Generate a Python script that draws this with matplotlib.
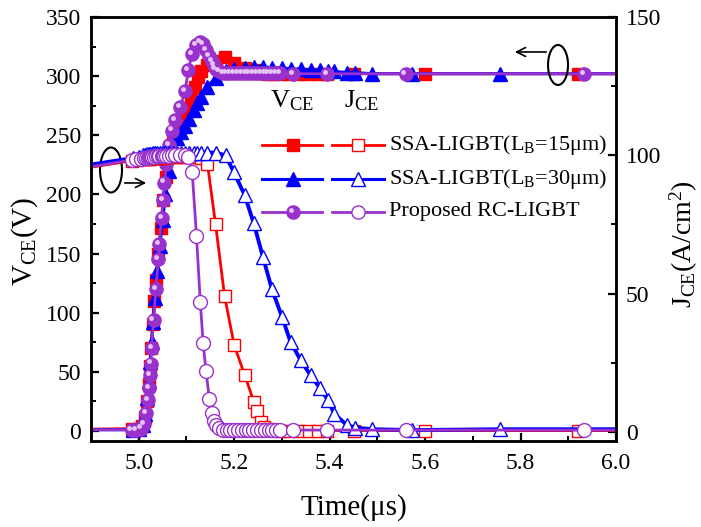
"""
Turn-off waveforms: collector voltage and current density vs. time
"""
import matplotlib
matplotlib.use('Agg')
import matplotlib.pyplot as plt
import matplotlib.transforms as mtransforms
from matplotlib.patches import Ellipse
from matplotlib.ticker import MultipleLocator

plt.rcParams['font.family'] = ['Liberation Serif', 'DejaVu Serif']
plt.rcParams['mathtext.fontset'] = 'custom'
plt.rcParams['mathtext.rm'] = 'Liberation Serif'
plt.rcParams['mathtext.it'] = 'Liberation Serif:italic'

# ---- SSA-LIGBT (LB = 15 um) ----
t_ssa15 = [4.80, 4.985, 4.997, 5.006, 5.013, 5.018, 5.021, 5.024, 5.026, 5.029,
           5.032, 5.036, 5.041, 5.046, 5.051, 5.057, 5.064, 5.072, 5.081, 5.090,
           5.100, 5.110, 5.117, 5.124, 5.131, 5.144, 5.161, 5.180, 5.200, 5.222,
           5.241, 5.247, 5.257, 5.262, 5.270, 5.282, 5.296, 5.314, 5.336, 5.356,
           5.375, 5.395, 5.452, 5.599, 5.920, 6.30]
v_ssa15 = [1, 2, 2, 4, 12, 25, 40, 55, 70, 90,
           110, 128, 150, 172, 195, 215, 233, 248, 258, 265,
           272, 282, 291, 299, 304, 309, 313, 316, 311, 307,
           305, 304, 303, 303, 302, 302, 302, 302, 302, 302,
           302, 302, 302, 302, 302, 302]
j_ssa15 = [93, 98, 98.3, 98.5, 98.6, 98.7, 98.8, 98.8, 98.9, 99,
           99, 99.1, 99.1, 99.2, 99.2, 99.3, 99.3, 99.4, 99.4, 99.5,
           99.5, 99.5, 99.5, 99.4, 99.2, 97, 75, 49, 31.4, 20.6,
           11, 7.6, 3.7, 1.9, 1.0, 0.7, 0.5, 0.5, 0.5, 0.5,
           0.5, 0.5, 0.5, 0.5, 0.5, 0.5]

# ---- SSA-LIGBT (LB = 30 um) ----
t_ssa30 = [4.80, 4.988, 5.000, 5.008, 5.014, 5.018, 5.021, 5.024, 5.027, 5.030,
           5.034, 5.039, 5.044, 5.050, 5.056, 5.063, 5.071, 5.080, 5.088, 5.096,
           5.105, 5.116, 5.123, 5.130, 5.142, 5.161, 5.182, 5.199, 5.222, 5.241,
           5.260, 5.279, 5.300, 5.318, 5.339, 5.360, 5.380, 5.396, 5.410, 5.436,
           5.453, 5.489, 5.573, 5.757, 6.30]
v_ssa30 = [1, 1, 2, 5, 14, 28, 42, 58, 75, 92,
           112, 135, 156, 178, 200, 220, 237, 248, 253, 258,
           264, 271, 277, 282, 291, 298, 304, 306, 307, 308,
           308, 307, 307, 306, 306, 305, 305, 304, 304, 303,
           303, 302, 302, 302, 302]
j_ssa30 = [94, 99, 99.5, 100, 100, 100.3, 100.4, 100.5, 100.6, 100.7,
           100.8, 100.8, 100.9, 100.9, 101, 101, 101, 101, 101, 101,
           101, 101, 101, 101, 101, 101, 100, 94, 85.6, 75.4,
           63.4, 51.6, 41.7, 32.6, 26, 20.5, 15.8, 11.6, 6.5, 2.5,
           1.6, 1.0, 0.7, 1.0, 1.0]

# ---- Proposed RC-LIGBT ----
t_rc = [4.80, 4.985, 4.995, 5.004, 5.011, 5.016, 5.020, 5.022, 5.024, 5.025,
        5.027, 5.031, 5.036, 5.041, 5.043, 5.048, 5.051, 5.054, 5.058, 5.064,
        5.070, 5.077, 5.087, 5.097, 5.104, 5.112, 5.121, 5.129, 5.135, 5.141,
        5.148, 5.153, 5.157, 5.161, 5.168, 5.176, 5.184, 5.192, 5.200, 5.208,
        5.216, 5.224, 5.232, 5.240, 5.248, 5.256, 5.264, 5.272, 5.280, 5.288,
        5.296, 5.323, 5.395, 5.559, 5.933, 6.30]
v_rc = [1, 1, 1, 2, 6, 15, 26, 36, 47, 57,
        70, 94, 120, 145, 158, 180, 195, 210, 226, 242,
        254, 263, 274, 287, 305, 319, 326, 329, 327, 322,
        317, 313, 309, 306, 304, 302.5, 302.5, 302.5, 302.5, 302.5,
        302.5, 302.5, 302.5, 302.5, 302.5, 302.5, 302.5, 302.5, 302.5, 302.5,
        302.5, 302, 302, 302, 302, 302]
j_rc = [93, 98.3, 98.6, 98.8, 99.0, 99.1, 99.2, 99.3, 99.3, 99.4,
        99.4, 99.5, 99.6, 99.6, 99.7, 99.7, 99.8, 99.8, 99.9, 99.9,
        100, 100, 100.1, 100.1, 99.5, 94, 71, 47, 32, 22,
        12, 7, 4, 2.5, 1.3, 0.8, 0.8, 0.8, 0.8, 0.8,
        0.8, 0.8, 0.8, 0.8, 0.8, 0.8, 0.8, 0.8, 0.8, 0.8,
        0.8, 0.7, 0.7, 0.7, 0.7, 0.7]

labels = ['SSA-LIGBT(L$_{\\rm B}$=15\u03bcm)',
          'SSA-LIGBT(L$_{\\rm B}$=30\u03bcm)',
          'Proposed RC-LIGBT']

RED = '#ff0000'
BLUE = '#0000ff'
PURPLE = '#9932cc'
SHINE = '#e6c4f7'

fig = plt.figure(figsize=(7.01, 5.27), dpi=100)
ax = fig.add_axes([0.1298, 0.1632, 0.749, 0.8046])
ax2 = ax.twinx()

# V_CE, filled markers
ax.plot(t_ssa15, v_ssa15, color=RED, lw=2.0, marker='s', ms=8, mfc=RED, mec=RED)
ax.plot(t_ssa30, v_ssa30, color=BLUE, lw=2.2, marker='^', ms=9.5, mfc=BLUE, mec=BLUE)
ax.plot(t_rc, v_rc, color=PURPLE, lw=2.0, marker='o', ms=9.5, mfc=PURPLE, mec=PURPLE)
shine = mtransforms.offset_copy(ax.transData, fig=fig, x=-1.5, y=1.5, units='points')
ax.plot(t_rc, v_rc, ls='none', marker='o', ms=3.5, mfc=SHINE, mec='none', transform=shine)

# J_CE, open markers
ax2.plot(t_ssa15, j_ssa15, color=RED, lw=2.0, marker='s', ms=8, mfc='white', mec=RED, mew=1.0)
ax2.plot(t_ssa30, j_ssa30, color=BLUE, lw=2.8, marker='^', ms=10, mfc='white', mec=BLUE, mew=1.0)
ax2.plot(t_rc, j_rc, color=PURPLE, lw=2.0, marker='o', ms=10, mfc='white', mec=PURPLE, mew=1.0)

ax.set_xlim(4.9, 6.0)
ax.set_ylim(-8.5, 350)
ax2.set_ylim(-3.25, 150)

ax.xaxis.set_major_locator(MultipleLocator(0.2))
ax.xaxis.set_minor_locator(MultipleLocator(0.1))
ax.yaxis.set_major_locator(MultipleLocator(50))
ax.yaxis.set_minor_locator(MultipleLocator(25))
ax2.yaxis.set_major_locator(MultipleLocator(50))
ax2.yaxis.set_minor_locator(MultipleLocator(25))
ax.xaxis.set_major_formatter(plt.FuncFormatter(lambda v, p: f'{v:.1f}'))

for a in (ax, ax2):
    for s in a.spines.values():
        s.set_linewidth(1.8)
    a.tick_params(which='major', direction='in', length=6, width=1.6, labelsize=17)
    a.tick_params(which='minor', direction='in', length=3.5, width=1.4)
ax.tick_params(axis='x', which='both', top=False, pad=9)
ax.tick_params(axis='y', which='both', right=False, pad=7)
ax2.tick_params(axis='y', which='both', left=False, pad=7)

ax.set_xlabel('Time(\u03bcs)', fontsize=21, labelpad=14)
ax.set_ylabel('V$_{\\rm CE}$(V)', fontsize=21, labelpad=4)
ax2.set_ylabel('J$_{\\rm CE}$(A/cm$^{2}$)', fontsize=20, labelpad=5)
# both y labels sit a little below the axes centre
ax.yaxis.label.set_y(0.47)
ax2.yaxis.label.set_y(0.465)


def px(x, y):
    """pixel position in the figure -> axes fraction"""
    return (x - 91) / 525.0, (441 - y) / 424.0


# hand-built two-column legend
ax2.text(*px(292, 101), 'V$_{\\rm CE}$', transform=ax2.transAxes,
         ha='center', va='center', fontsize=19)
ax2.text(*px(362, 101), 'J$_{\\rm CE}$', transform=ax2.transAxes,
         ha='center', va='center', fontsize=19)

rows = [(145, RED, 's', 8, 2.0), (179, BLUE, '^', 9.5, 2.2), (212, PURPLE, 'o', 9.5, 2.0)]
for (ry, col, mk, ms, lw), lab in zip(rows, labels):
    x0, y0 = px(262, ry)
    x1, _ = px(322, ry)
    xm, _ = px(293, ry)
    ax2.plot([x0, x1], [y0, y0], color=col, lw=lw, transform=ax2.transAxes, clip_on=False)
    ax2.plot([xm], [y0], marker=mk, ms=ms, color=col, transform=ax2.transAxes, clip_on=False)
    if mk == 'o':
        lshine = mtransforms.offset_copy(ax2.transAxes, fig=fig, x=-1.5, y=1.5, units='points')
        ax2.plot([xm], [y0], marker='o', ms=3.5, mfc=SHINE, mec='none', transform=lshine)
    x0, _ = px(332, ry)
    x1, _ = px(384, ry)
    xm, _ = px(358, ry)
    ax2.plot([x0, x1], [y0, y0], color=col, lw=lw, transform=ax2.transAxes, clip_on=False)
    ax2.plot([xm], [y0], marker=mk, ms=ms, mfc='white', mec=col, mew=1.0,
             transform=ax2.transAxes, clip_on=False)
    xt, _ = px(389, ry)
    ax2.text(xt, y0, lab, transform=ax2.transAxes, ha='left', va='center', fontsize=16)

# axis markers: ellipse + arrow pointing to the axis each curve group uses
for cx, cy, w, h in [(111, 170, 22, 45), (558, 65, 20, 40)]:
    ex, ey = px(cx, cy)
    ax2.add_patch(Ellipse((ex, ey), w / 525.0, h / 424.0, transform=ax2.transAxes,
                          fill=False, ec='black', lw=1.5))
ax2.annotate('', xy=px(149, 183), xytext=px(122, 183), xycoords='axes fraction',
             arrowprops=dict(arrowstyle='->', lw=1.2, color='black', mutation_scale=16))
ax2.annotate('', xy=px(512, 52), xytext=px(549, 52), xycoords='axes fraction',
             arrowprops=dict(arrowstyle='->', lw=1.2, color='black', mutation_scale=16))

fig.savefig('out.png', dpi=100)
